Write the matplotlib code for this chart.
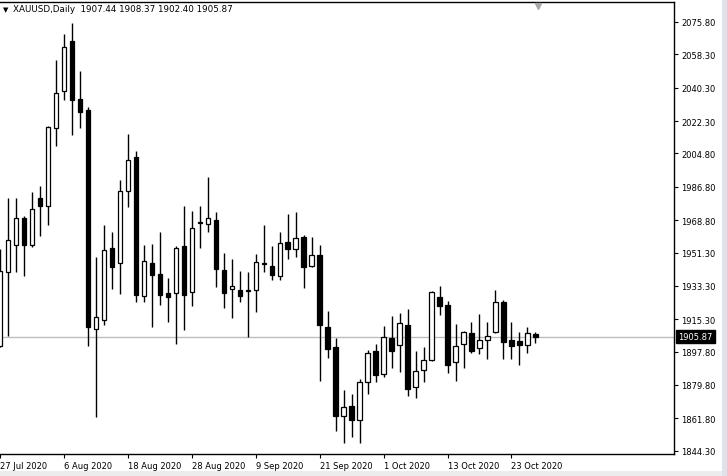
import numpy as np
import matplotlib.pyplot as plt
from matplotlib.patches import Rectangle
from matplotlib.transforms import blended_transform_factory

# Daily XAUUSD candles, 27 Jul 2020 .. 28 Oct 2020
opens = [1901.0, 1940.6, 1955.5, 1970.0, 1955.5, 1980.8, 1976.6, 2018.4, 2038.4, 2065.4,
         2034.4, 2028.3, 1910.0, 1915.0, 1953.6, 1945.5, 1984.7, 2002.9, 1928.0, 1945.7,
         1939.6, 1929.3, 1929.3, 1954.7, 1930.2, 1967.8, 1966.6, 1968.9, 1941.9, 1931.5,
         1931.2, 1931.1, 1931.2, 1945.2, 1944.0, 1938.8, 1956.8, 1953.4, 1959.7, 1944.2,
         1950.0, 1910.9, 1900.1, 1862.9, 1868.3, 1861.0, 1881.2, 1898.0, 1885.9, 1905.2,
         1901.2, 1912.2, 1878.5, 1887.6, 1893.4, 1927.1, 1923.0, 1892.0, 1901.8, 1907.9,
         1899.6, 1903.9, 1908.2, 1924.8, 1904.1, 1903.4, 1901.5, 1907.44]
highs = [1953.0, 1980.6, 1980.6, 1971.2, 1984.2, 1987.4, 2019.6, 2055.4, 2069.3, 2075.1,
         2049.5, 2029.7, 1948.7, 1966.3, 1962.2, 1990.5, 2015.3, 2006.0, 1955.4, 1955.9,
         1962.2, 1937.6, 1955.0, 1976.6, 1973.9, 1976.6, 1992.3, 1973.4, 1951.1, 1947.8,
         1941.3, 1940.8, 1950.5, 1966.3, 1955.0, 1962.4, 1972.1, 1973.2, 1960.8, 1959.7,
         1955.5, 1919.7, 1905.3, 1877.1, 1874.9, 1883.0, 1898.8, 1901.9, 1911.6, 1917.0,
         1918.7, 1920.8, 1898.1, 1900.1, 1930.4, 1933.4, 1925.3, 1912.7, 1909.1, 1914.0,
         1918.1, 1914.0, 1931.2, 1925.8, 1914.0, 1908.6, 1910.9, 1908.37]
lows = [1900.5, 1906.4, 1941.0, 1938.8, 1954.5, 1960.1, 1966.3, 2009.0, 2033.8, 2014.8,
        2018.7, 1901.0, 1862.3, 1912.3, 1931.6, 1928.9, 1975.7, 1924.4, 1924.4, 1911.3,
        1923.0, 1914.0, 1901.9, 1909.5, 1922.6, 1953.8, 1962.6, 1932.5, 1921.5, 1916.2,
        1924.4, 1905.7, 1919.4, 1941.0, 1936.5, 1936.5, 1947.8, 1949.1, 1932.3, 1943.7,
        1881.8, 1894.2, 1855.1, 1848.3, 1851.5, 1848.3, 1874.9, 1881.2, 1884.3, 1888.8,
        1886.6, 1874.0, 1872.6, 1881.6, 1892.9, 1917.7, 1886.1, 1881.8, 1889.1, 1897.1,
        1896.5, 1893.8, 1907.9, 1893.8, 1893.8, 1890.6, 1897.1, 1902.40]
closes = [1941.5, 1958.2, 1970.0, 1955.5, 1974.8, 1976.3, 2018.9, 2037.3, 2062.1, 2033.8,
          2027.4, 1910.9, 1916.3, 1952.8, 1943.3, 1984.4, 2001.1, 1928.5, 1946.6, 1939.3,
          1928.5, 1927.5, 1953.6, 1928.5, 1964.4, 1967.0, 1969.8, 1942.6, 1929.6, 1933.1,
          1928.0, 1930.5, 1946.0, 1945.7, 1939.3, 1956.3, 1953.4, 1959.0, 1943.7, 1950.0,
          1912.3, 1899.4, 1863.2, 1867.7, 1861.0, 1881.2, 1896.9, 1885.3, 1905.5, 1898.3,
          1913.1, 1877.4, 1887.2, 1893.1, 1929.8, 1922.3, 1890.7, 1900.7, 1908.2, 1898.3,
          1903.9, 1906.1, 1924.4, 1903.2, 1901.0, 1901.5, 1907.7, 1905.87]

date_labels = ['27 Jul 2020', '6 Aug 2020', '18 Aug 2020', '28 Aug 2020', '9 Sep 2020',
               '21 Sep 2020', '1 Oct 2020', '13 Oct 2020', '23 Oct 2020']
price_ticks = [2075.80, 2058.30, 2040.30, 2022.30, 2004.80, 1986.80, 1968.80,
               1951.30, 1933.30, 1915.30, 1897.80, 1879.80, 1861.80, 1844.30]
last_price = 1905.87
header = 'XAUUSD,Daily  1907.44 1908.37 1902.40 1905.87'

W, H = 727, 477
fs = 6.0
plt.rcParams['font.family'] = ['DejaVu Sans']

fig = plt.figure(figsize=(W / 100, H / 100), dpi=100)
fig.patch.set_facecolor('white')
# window frame bits
fig.patches.append(Rectangle((722 / W, 0), 5 / W, 1, transform=fig.transFigure,
                             facecolor='#dde3ee', edgecolor='none'))
fig.patches.append(Rectangle((0, 0), 722 / W, 5 / H, transform=fig.transFigure,
                             facecolor='#ececec', edgecolor='none'))

ax = fig.add_axes([0, 1 - 455 / H, 674 / W, 452 / H])

o = np.array(opens)
h = np.array(highs)
l = np.array(lows)
c = np.array(closes)
x = np.arange(len(o))
up = c >= o

ax.axhline(last_price, color='#bdbdbd', lw=1, zorder=1)
ax.vlines(x, l, h, color='black', lw=1, zorder=2)
ax.bar(x[up], (c - o)[up], bottom=o[up], width=0.55, facecolor='white',
       edgecolor='black', lw=0.9, zorder=3)
ax.bar(x[~up], (o - c)[~up], bottom=c[~up], width=0.55, facecolor='black',
       edgecolor='black', lw=0.9, zorder=3)

ax.set_xlim(0.09, 84.34)
ax.set_ylim(1842.5, 2086.6)

ax.yaxis.tick_right()
ax.set_yticks(price_ticks)
ax.set_yticklabels([f'{p:.2f}' for p in price_ticks])
ax.set_xticks(np.arange(len(date_labels)) * 8)
ax.set_xticklabels(date_labels, ha='left')
ax.tick_params(axis='both', direction='out', length=3, width=0.8, labelsize=fs,
               colors='black')
ax.tick_params(axis='y', pad=2)
ax.tick_params(axis='x', pad=2)

for side in ['top', 'right', 'bottom']:
    ax.spines[side].set_linewidth(1)
    ax.spines[side].set_color('black')
ax.spines['left'].set_visible(False)

# current price box on the price scale
tr = blended_transform_factory(ax.transAxes, ax.transData)
ax.text(1.006, last_price, f'{last_price:.2f}', transform=tr, va='center', ha='left',
        color='white', fontsize=fs, clip_on=False,
        bbox=dict(boxstyle='square,pad=0.25', facecolor='black', edgecolor='black'))

# chart shift marker at the top
tr2 = blended_transform_factory(ax.transData, ax.transAxes)
ax.plot([67.3], [0.992], marker='v', color='#a8a8a8', ms=5, transform=tr2,
        clip_on=False, zorder=5)

# header line
fig.text(3 / W, 1 - 10 / H, '\u25bc', fontsize=5, va='center', ha='left', color='black')
fig.text(13 / W, 1 - 10 / H, header, fontsize=6.3, va='center', ha='left', color='black')

fig.savefig('out.png', dpi=100)
